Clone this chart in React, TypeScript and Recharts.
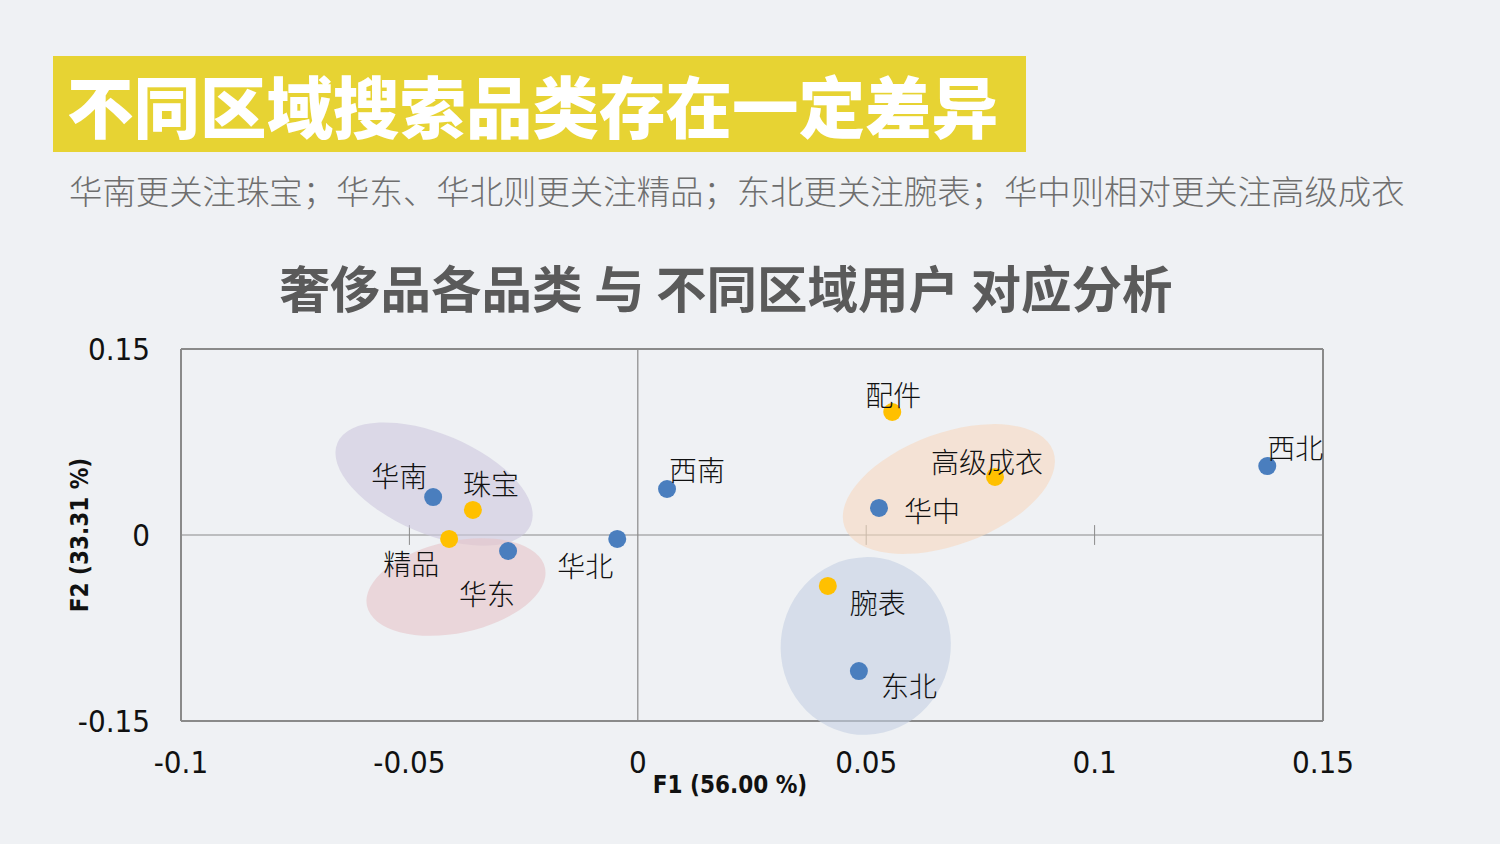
import React from 'react';
import { ScatterChart, Scatter, XAxis, YAxis, ReferenceLine } from 'recharts';

// ---- Data ----
const regionNames = ['华南', '华东', '华北', '西南', '华中', '东北', '西北'];
const regionF1 = [-0.0448, -0.0284, -0.0045, 0.0064, 0.0528, 0.0484, 0.1378];
const regionF2 = [0.0306, -0.0129, -0.0032, 0.0371, 0.0218, -0.1097, 0.0556];

const categoryNames = ['珠宝', '精品', '配件', '高级成衣', '腕表'];
const categoryF1 = [-0.0361, -0.0413, 0.0557, 0.0782, 0.0416];
const categoryF2 = [0.0202, -0.0032, 0.0992, 0.0468, -0.0411];

const groupNames = ['华南-珠宝', '华东-精品', '华中-高级成衣', '东北-腕表'];
const groupF1 = [-0.0446, -0.0398, 0.0681, 0.0499];
const groupF2 = [0.0411, -0.0419, 0.0371, -0.0895];

const xTicks = [-0.1, -0.05, 0, 0.05, 0.1, 0.15];
const yTicks = [-0.15, 0, 0.15];
const innerTicks = [-0.05, 0.05, 0.1];

const TITLE = '不同区域搜索品类存在一定差异';
const SUBTITLE = '华南更关注珠宝；华东、华北则更关注精品；东北更关注腕表；华中则相对更关注高级成衣';
const CHART_TITLE = '奢侈品各品类 与 不同区域用户 对应分析';
const X_LABEL = 'F1 (56.00 %)';
const Y_LABEL = 'F2 (33.31 %)';

// ---- Styles (pixel offsets for labels, ellipse shapes) ----
const LABEL_OFFSET: Record<string, [number, number]> = {
  华南: [-62, -22],
  珠宝: [-10, -27],
  精品: [-66, 24],
  华东: [-49, 42],
  华北: [-60, 26],
  西南: [2, -20],
  配件: [-27, -18],
  高级成衣: [-64, -16],
  华中: [25, 2],
  腕表: [22, 16],
  东北: [22, 14],
  西北: [0, -19],
};

const ELLIPSE_STYLE: Record<string, { rx: number; ry: number; angle: number; fill: string }> = {
  '华南-珠宝': { rx: 105, ry: 50, angle: 23, fill: '#cdc8dd' },
  '华东-精品': { rx: 91, ry: 46, angle: -12, fill: '#e6c4c8' },
  '华中-高级成衣': { rx: 111, ry: 56, angle: -20, fill: '#f7d8bf' },
  '东北-腕表': { rx: 85, ry: 89, angle: 10, fill: '#c5d1e3' },
};

const regionData = regionNames.map((name, i) => ({ name, f1: regionF1[i], f2: regionF2[i] }));
const categoryData = categoryNames.map((name, i) => ({ name, f1: categoryF1[i], f2: categoryF2[i] }));
const groupData = groupNames.map((name, i) => ({ name, f1: groupF1[i], f2: groupF2[i] }));

const CJK = '"Noto Sans CJK SC", "Noto Sans", sans-serif';
const NUM = '"Liberation Sans Narrow", "DejaVu Sans Condensed", "Liberation Sans", sans-serif';
const LINE = '#8a8a8a';

const PointShape = (color: string) => (props: any) => {
  const { cx, cy, payload } = props;
  const off = LABEL_OFFSET[payload.name] || [10, -10];
  return (
    <g>
      <circle cx={cx} cy={cy} r={9} fill={color} />
      <text
        x={cx + off[0]}
        y={cy + off[1]}
        dominantBaseline="central"
        fontFamily={CJK}
        fontWeight={300}
        fontSize={28}
        fill="#111"
      >
        {payload.name}
      </text>
    </g>
  );
};

const EllipseShape = (props: any) => {
  const { cx, cy, payload } = props;
  const s = ELLIPSE_STYLE[payload.name];
  return (
    <ellipse
      cx={cx}
      cy={cy}
      rx={s.rx}
      ry={s.ry}
      fill={s.fill}
      fillOpacity={0.6}
      transform={`rotate(${s.angle} ${cx} ${cy})`}
    />
  );
};

const XTick = (props: any) => {
  const { x, y, payload } = props;
  return (
    <text x={x} y={y} dy={33} textAnchor="middle" dominantBaseline="central" fontFamily={NUM} fontSize={31} fill="#111">
      {String(payload.value)}
    </text>
  );
};

const YTick = (props: any) => {
  const { x, y, payload } = props;
  return (
    <text x={x} y={y} dx={-23} textAnchor="end" dominantBaseline="central" fontFamily={NUM} fontSize={31} fill="#111">
      {String(payload.value)}
    </text>
  );
};

export default function App() {
  return (
    <div
      style={{
        position: 'absolute',
        left: 0,
        top: 0,
        width: 1500,
        height: 844,
        background: '#eff1f4',
        overflow: 'hidden',
      }}
    >
      <div
        style={{
          position: 'absolute',
          left: 53,
          top: 56,
          width: 973,
          height: 96,
          background: '#e7d333',
        }}
      />
      <div
        style={{
          position: 'absolute',
          left: 67,
          top: 56,
          height: 96,
          lineHeight: '96px',
          fontFamily: CJK,
          fontWeight: 900,
          fontSize: 66.5,
          color: '#ffffff',
          whiteSpace: 'nowrap',
        }}
      >
        {TITLE}
      </div>
      <div
        style={{
          position: 'absolute',
          left: 69,
          top: 168,
          lineHeight: '44px',
          fontFamily: CJK,
          fontWeight: 300,
          fontSize: 33.4,
          color: '#6e6e6e',
          whiteSpace: 'nowrap',
        }}
      >
        {SUBTITLE}
      </div>
      <div
        style={{
          position: 'absolute',
          left: 0,
          width: 1452,
          top: 256,
          lineHeight: '60px',
          textAlign: 'center',
          fontFamily: CJK,
          fontWeight: 700,
          fontSize: 50.5,
          color: '#5a5a5a',
          whiteSpace: 'pre',
        }}
      >
        {CHART_TITLE}
      </div>
      <div style={{ position: 'absolute', left: 0, top: 0 }}>
        <ScatterChart width={1500} height={844} margin={{ top: 349, right: 177, bottom: 73, left: 101 }}>
          <XAxis
            type="number"
            dataKey="f1"
            domain={[-0.1, 0.15]}
            ticks={xTicks}
            interval={0}
            tickLine={false}
            axisLine={false}
            tick={<XTick />}
            height={50}
          />
          <YAxis
            type="number"
            dataKey="f2"
            domain={[-0.15, 0.15]}
            ticks={yTicks}
            interval={0}
            tickLine={false}
            axisLine={false}
            tick={<YTick />}
            width={80}
          />
          <Scatter data={groupData} shape={EllipseShape} isAnimationActive={false} />
          <ReferenceLine x={-0.1} stroke={LINE} strokeWidth={2} />
          <ReferenceLine y={-0.15} stroke={LINE} strokeWidth={2} />
          <ReferenceLine x={0.15} stroke={LINE} strokeWidth={2} />
          <ReferenceLine y={0.15} stroke={LINE} strokeWidth={2} />
          <ReferenceLine x={0} stroke={LINE} strokeWidth={1.2} />
          <ReferenceLine y={0} stroke={LINE} strokeWidth={1.2} />
          {innerTicks.map((t) => (
            <ReferenceLine
              key={t}
              segment={[
                { x: t, y: -0.008 },
                { x: t, y: 0.008 },
              ]}
              stroke={LINE}
              strokeWidth={1}
            />
          ))}
          <Scatter data={regionData} shape={PointShape('#4a7ebe')} isAnimationActive={false} />
          <Scatter data={categoryData} shape={PointShape('#ffc000')} isAnimationActive={false} />
        </ScatterChart>
      </div>
      <div
        style={{
          position: 'absolute',
          left: 630,
          width: 200,
          top: 768,
          lineHeight: '34px',
          textAlign: 'center',
          fontFamily: NUM,
          fontWeight: 700,
          fontSize: 24,
          color: '#111',
          whiteSpace: 'nowrap',
        }}
      >
        {X_LABEL}
      </div>
      <div
        style={{
          position: 'absolute',
          left: 80 - 100,
          width: 200,
          top: 535 - 17,
          lineHeight: '34px',
          textAlign: 'center',
          fontFamily: NUM,
          fontWeight: 700,
          fontSize: 24,
          color: '#111',
          whiteSpace: 'nowrap',
          transform: 'rotate(-90deg)',
        }}
      >
        {Y_LABEL}
      </div>
    </div>
  );
}
